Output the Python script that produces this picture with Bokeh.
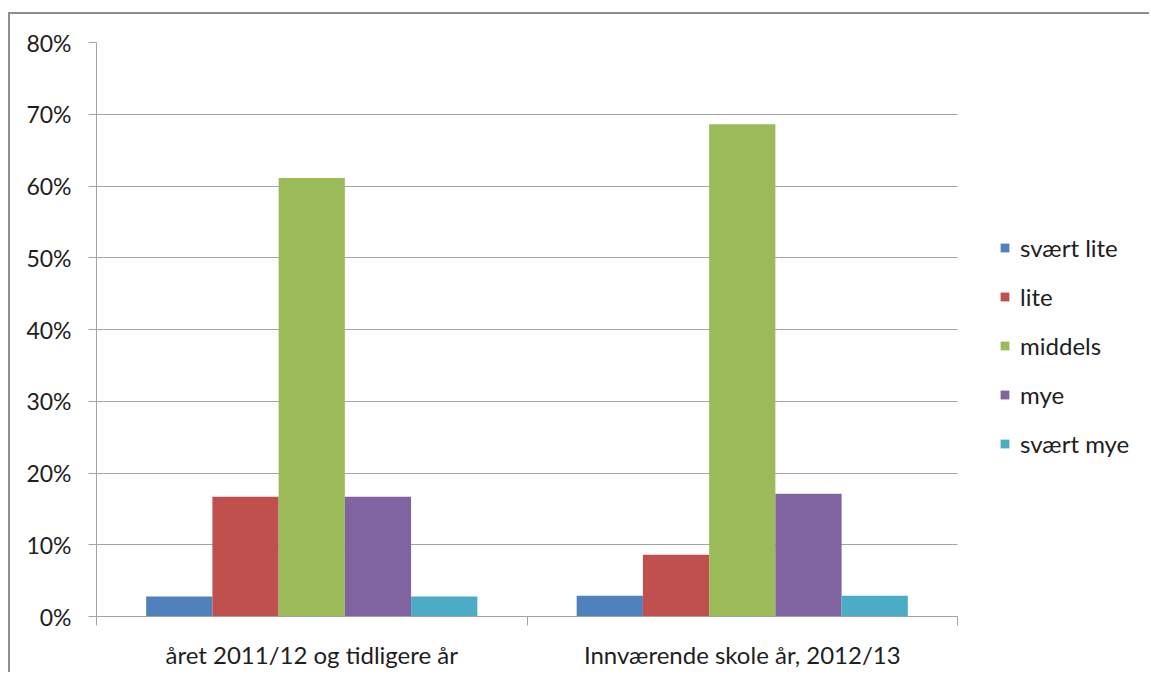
from bokeh.plotting import figure
from bokeh.models import (Range1d, FixedTicker, NumeralTickFormatter, ColumnDataSource,
                          Legend, LegendItem)
from bokeh.transform import dodge
from bokeh.embed import file_html
from bokeh.resources import INLINE

groups = ["året 2011/12 og tidligere år", "Innværende skole år, 2012/13"]
series = ["svært lite", "lite", "middels", "mye", "svært mye"]
svaert_lite = [0.028, 0.029]
lite = [0.167, 0.086]
middels = [0.611, 0.686]
mye = [0.167, 0.171]
svaert_mye = [0.028, 0.029]
colors = ["#4F81BD", "#C0504D", "#9BBB59", "#8064A2", "#4BACC6"]
y_ticks = [0.0, 0.1, 0.2, 0.3, 0.4, 0.5, 0.6, 0.7, 0.8]

keys = ["s0", "s1", "s2", "s3", "s4"]
values = [svaert_lite, lite, middels, mye, svaert_mye]
centers = [i + 0.5 for i in range(len(groups))]
bounds = [float(i) for i in range(len(groups) + 1)]
data = {"pos": centers}
for k, v in zip(keys, values):
    data[k] = v
source = ColumnDataSource(data)

FONT = "Lato"
TXT = "#1e1e1e"
GRID = "#a3a3a3"

W, H = 1141, 660
ML, MT, MB = 86, 28, 58
PLOT_PX = 861                      # pixel width of the category area
FRAME_PX = W - ML                  # frame runs to the canvas edge (legend lives inside)
n_groups = len(groups)
x_end = n_groups * FRAME_PX / PLOT_PX

p = figure(x_range=Range1d(0, x_end),
           y_range=Range1d(0, 0.8),
           width=W, height=H,
           output_backend="svg", toolbar_location=None,
           min_border_left=ML, min_border_right=0,
           min_border_top=MT, min_border_bottom=MB)
p.styles = {"border-left": "2px solid #8e8e8e", "border-top": "2px solid #8e8e8e",
            "margin-top": "12px", "margin-left": "8px"}
p.outline_line_color = None
p.background_fill_color = "white"
p.border_fill_color = "white"

bw = 1.0 / 6.5
n = len(series)
items = []
for i, (k, name, c) in enumerate(zip(keys, series, colors)):
    off = (i - (n - 1) / 2) * bw
    r = p.vbar(x=dodge("pos", off), top=k, width=bw,
               source=source, fill_color=c, line_color=None)
    items.append(LegendItem(label=name, renderers=[r]))

xax = p.xaxis[0]
xax.bounds = (0, n_groups)
xax.ticker = FixedTicker(ticks=centers, minor_ticks=bounds)
xax.major_label_overrides = {c: g for c, g in zip(centers, groups)}
xax.major_tick_line_color = None
xax.minor_tick_in = 0
xax.minor_tick_out = 9
xax.minor_tick_line_color = GRID
xax.axis_line_color = GRID
xax.major_label_text_font = FONT
xax.major_label_text_font_size = "24px"
xax.major_label_text_color = TXT
xax.major_label_standoff = 14

yax = p.yaxis[0]
yax.ticker = FixedTicker(ticks=y_ticks)
yax.formatter = NumeralTickFormatter(format="0%")
yax.major_tick_in = 0
yax.major_tick_out = 8
yax.major_tick_line_color = GRID
yax.minor_tick_line_color = None
yax.axis_line_color = GRID
yax.major_label_text_font = FONT
yax.major_label_text_font_size = "23px"
yax.major_label_text_color = TXT
yax.major_label_standoff = 17

p.xgrid.visible = False
p.ygrid.grid_line_color = GRID
p.ygrid.grid_line_width = 1
p.ygrid.cross_bounds = (0, n_groups)

lg = Legend(items=items, location=(903, 158))
lg.padding = 0
lg.margin = 0
lg.border_line_color = None
lg.background_fill_alpha = 0
lg.glyph_width = 11
lg.glyph_height = 11
lg.label_height = 26
lg.spacing = 20
lg.label_standoff = 10
lg.label_text_font = FONT
lg.label_text_font_size = "24px"
lg.label_text_color = TXT
p.add_layout(lg, "center")

open("out.html", "w").write(file_html(p, INLINE))
